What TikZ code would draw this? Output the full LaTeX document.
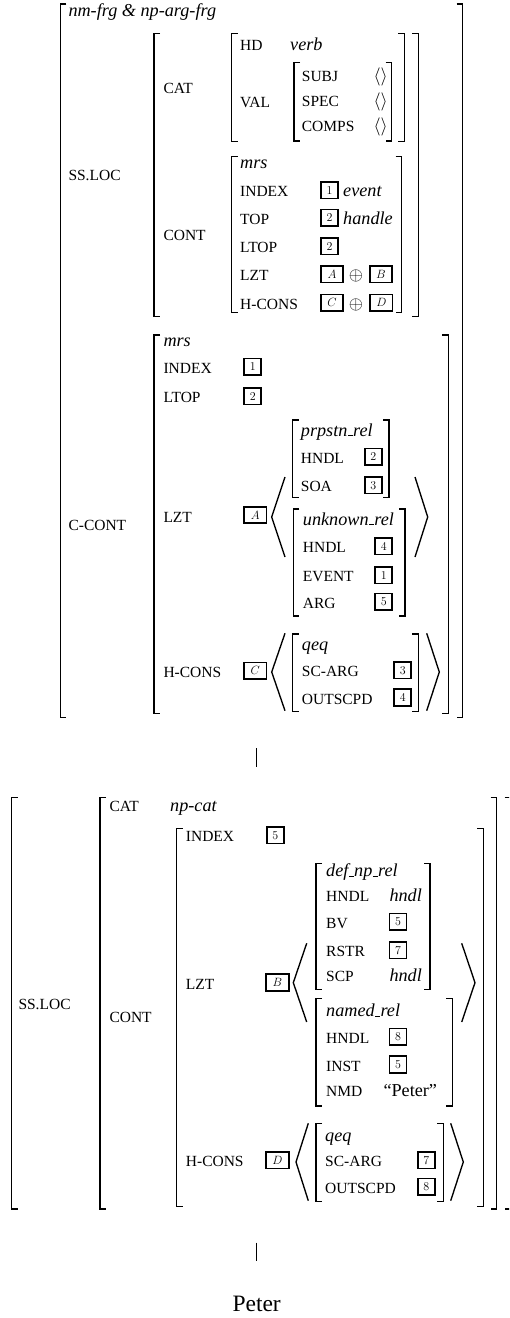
\documentclass[tikz,border=0pt]{standalone}
\usepackage{fix-cm}
\usepackage{fontspec}
\setmainfont{Liberation Serif}
\newcommand\featfont{\fontsize{15.5}{16}\selectfont}
\newcommand\valfont{\fontsize{18.2}{19}\selectfont\itshape}
\newcommand\rmvalfont{\fontsize{18.2}{19}\selectfont}
\newcommand\tagfont{\fontsize{12}{12}\usefont{OT1}{cmr}{m}{n}}
\newcommand\us{\kern0.4pt\rule[-0.3pt]{5pt}{1.3pt}\kern0.4pt}
\newcommand\lbr[3]{\draw[brk] (#1+6,#2) -- (#1,#2) -- (#1,#3) -- (#1+6,#3);}
\newcommand\rbr[3]{\draw[brk] (#1-6,#2) -- (#1,#2) -- (#1,#3) -- (#1-6,#3);}
\newcommand\avmbr[4]{\lbr{#1}{#3}{#4}\rbr{#2}{#3}{#4}}
\newcommand\angs[6]{%
  \draw[ang] (#1,#5) -- (#2,{(#5+#6)/2}) -- (#1,#6);
  \draw[ang] (#3,#5) -- (#4,{(#5+#6)/2}) -- (#3,#6);}
\tikzset{
  feat/.style={anchor=base west, inner sep=0pt, font=\featfont},
  val/.style={anchor=base west, inner sep=0pt, font=\valfont},
  valrm/.style={anchor=base west, inner sep=0pt, font=\rmvalfont},
  opsym/.style={anchor=base, inner sep=0pt, font=\rmvalfont},
  tagbox/.style={draw, line width=1.7pt, inner sep=0pt, minimum width=17pt, minimum height=16.5pt, font=\tagfont},
  ltag/.style={tagbox, minimum width=22.5pt},
  brk/.style={line width=1.55pt, line join=miter},
  ang/.style={line width=1.35pt},
  branch/.style={line width=0.8pt},
}
\begin{document}
\begin{tikzpicture}[x=1pt,y=-1pt]
\useasboundingbox (0,0) rectangle (509,1318);
% ===== upper AVM =====
\avmbr{60.3}{462.7}{4}{717.3}
\node[val] (u-type) at (68.3,16.7) {nm-frg \& np-arg-frg};
\node[feat] (u-ssloc) at (68.3,180) {SS.LOC};
\avmbr{154}{418.3}{33.3}{316.7}
\node[feat] (u-cat) at (163.3,93.3) {CAT};
\avmbr{231.7}{404.3}{33.3}{141.7}
\node[feat] (u-hd) at (240,50) {HD};
\node[val] (u-verb) at (290,50) {verb};
\node[feat] (u-val) at (240,107.3) {VAL};
\avmbr{294}{391.7}{62.7}{141}
\node[feat] (u-subj) at (301.7,81.7) {SUBJ};
\node[valrm] (u-subjv) at (373.3,81.7) {$\langle\rangle$};
\node[feat] (u-spec) at (301.7,106.7) {SPEC};
\node[valrm] (u-specv) at (373.3,106.7) {$\langle\rangle$};
\node[feat] (u-comps) at (301.7,131) {COMPS};
\node[valrm] (u-compsv) at (373.3,131) {$\langle\rangle$};
\node[feat] (u-cont) at (163.3,240) {CONT};
\avmbr{231.7}{401.7}{156.7}{312.7}
\node[val] (u-mrs) at (240,168.3) {mrs};
\node[feat] (u-index) at (240,196.7) {INDEX};
\node[tagbox] (u-t1) at (329.5,190.2) {1};
\node[val] (u-event) at (343,196.7) {event};
\node[feat] (u-top) at (240,224.3) {TOP};
\node[tagbox] (u-t2) at (329.5,217.8) {2};
\node[val] (u-handle) at (343,224.3) {handle};
\node[feat] (u-ltop) at (240,252.7) {LTOP};
\node[tagbox] (u-t2b) at (329.5,246.2) {2};
\node[feat] (u-lzt) at (240,280.7) {LZT};
\node[ltag] (u-tA) at (332,274.2) {$A$};
\node[opsym] (u-op1) at (356,280.7) {$\oplus$};
\node[ltag] (u-tB) at (381,274.2) {$B$};
\node[feat] (u-hcons) at (240,309.3) {H-CONS};
\node[ltag] (u-tC) at (332,302.8) {$C$};
\node[opsym] (u-op2) at (356,309.3) {$\oplus$};
\node[ltag] (u-tD) at (381.3,302.8) {$D$};
% C-CONT
\node[feat] (u-ccont) at (68.3,530) {C-CONT};
\avmbr{154}{448.3}{335}{713.3}
\node[val] (c-mrs) at (163.3,346.7) {mrs};
\node[feat] (c-index) at (163.3,373.3) {INDEX};
\node[tagbox] (c-t1) at (252.8,366.8) {1};
\node[feat] (c-ltop) at (163.3,402.7) {LTOP};
\node[tagbox] (c-t2) at (252.8,396.2) {2};
\node[feat] (c-lzt) at (163.3,522.7) {LZT};
\node[ltag] (c-tA) at (255.3,515) {$A$};
\angs{285}{271.7}{415}{427.7}{477}{557}
\avmbr{292.7}{389}{420}{497.3}
\node[val] (p-type) at (300.7,436) {prpstn\us rel};
\node[feat] (p-hndl) at (300.7,463.3) {HNDL};
\node[tagbox] (p-t2) at (373.3,456.8) {2};
\node[feat] (p-soa) at (300.7,491.7) {SOA};
\node[tagbox] (p-t3) at (373.3,485.2) {3};
\avmbr{293.3}{405}{509}{616}
\node[val] (k-type) at (302.7,525) {unknown\us rel};
\node[feat] (k-hndl) at (302.7,552.7) {HNDL};
\node[tagbox] (k-t4) at (383.7,546.2) {4};
\node[feat] (k-event) at (302.7,581.7) {EVENT};
\node[tagbox] (k-t1) at (383.7,575.2) {1};
\node[feat] (k-arg) at (302.7,608.3) {ARG};
\node[tagbox] (k-t5) at (383.7,601.8) {5};
\node[feat] (c-hcons) at (163.3,677.3) {H-CONS};
\node[ltag] (c-tC) at (255.3,670.7) {$C$};
\angs{285}{271.7}{426.7}{439.3}{633.3}{710.7}
\avmbr{292.7}{418.3}{634}{711.7}
\node[val] (q-type) at (301.7,650) {qeq};
\node[feat] (q-scarg) at (301.7,676.7) {SC-ARG};
\node[tagbox] (q-t3) at (402.7,670.2) {3};
\node[feat] (q-outs) at (301.7,704) {OUTSCPD};
\node[tagbox] (q-t4) at (402.7,697.5) {4};
% branch 1
\coordinate (b1top) at (256.7,748.3);
\coordinate (b1bot) at (256.7,766.7);
\draw[branch] (b1top) -- (b1bot);
% ===== lower AVM =====
\lbr{11.7}{797.3}{1209}
\begin{scope}
\clip (0,0) rectangle (509,1318);
\rbr{510.5}{797.3}{1209}
\end{scope}
\node[feat] (l-ssloc) at (18.3,1009) {SS.LOC};
\avmbr{100}{496.7}{797.3}{1209}
\node[feat] (l-cat) at (109.3,811.7) {CAT};
\node[val] (l-npcat) at (170,811.7) {np-cat};
\node[feat] (l-cont) at (109.3,1022.7) {CONT};
\avmbr{176.7}{483.3}{828.3}{1206.7}
\node[feat] (l-index) at (185.7,841.7) {INDEX};
\node[tagbox] (l-t5) at (275.3,835.2) {5};
\node[feat] (l-lzt) at (185.7,989.3) {LZT};
\node[ltag] (l-tB) at (277.5,982.5) {$B$};
\angs{306.7}{293.3}{461.7}{475}{943.3}{1022}
\avmbr{316}{430}{863.3}{989.3}
\node[val] (d-type) at (326,876.7) {def\us np\us rel};
\node[feat] (d-hndl) at (326,901.7) {HNDL};
\node[val] (d-hndlv) at (389.3,901.7) {hndl};
\node[feat] (d-bv) at (326,928.3) {BV};
\node[tagbox] (d-t5) at (398,921.8) {5};
\node[feat] (d-rstr) at (326,956.7) {RSTR};
\node[tagbox] (d-t7) at (398,950.2) {7};
\node[feat] (d-scp) at (326,981.7) {SCP};
\node[val] (d-scpv) at (389.3,981.7) {hndl};
\avmbr{316}{452.3}{998.3}{1106}
\node[val] (n-type) at (326,1016.7) {named\us rel};
\node[feat] (n-hndl) at (326,1043.3) {HNDL};
\node[tagbox] (n-t8) at (398,1036.8) {8};
\node[feat] (n-inst) at (326,1071) {INST};
\node[tagbox] (n-t5) at (398,1064.5) {5};
\node[feat] (n-nmd) at (326,1096.7) {NMD};
\node[valrm] (n-peter) at (383.3,1096.7) {“Peter”};
\node[feat] (l-hcons) at (185.7,1166.7) {H-CONS};
\node[ltag] (l-tD) at (277.5,1160.2) {$D$};
\angs{308.3}{296}{450.7}{463.3}{1123.3}{1200.7}
\avmbr{316}{443.3}{1123.3}{1201.7}
\node[val] (m-type) at (325,1141.7) {qeq};
\node[feat] (m-scarg) at (325,1166.7) {SC-ARG};
\node[tagbox] (m-t7) at (426.3,1160.2) {7};
\node[feat] (m-outs) at (325,1193.3) {OUTSCPD};
\node[tagbox] (m-t8) at (426.3,1186.8) {8};
% branch 2
\coordinate (b2top) at (256.7,1242.7);
\coordinate (b2bot) at (256.7,1260.7);
\draw[branch] (b2top) -- (b2bot);
\node[anchor=base west, inner sep=0pt, font=\fontsize{23.5}{24}\selectfont] (word) at (232.3,1311.7) {Peter};
\end{tikzpicture}
\end{document}
